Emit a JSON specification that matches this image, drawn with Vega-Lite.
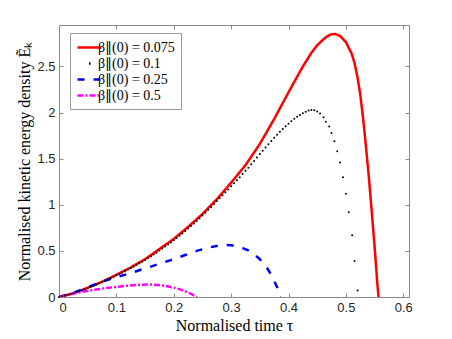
{
  "$schema": "https://vega.github.io/schema/vega-lite/v6.json",
  "autosize": "none",
  "width": 350,
  "height": 272,
  "padding": {"left": 59, "top": 25, "right": 43, "bottom": 42},
  "background": "white",
  "config": {
    "font": "Liberation Serif",
    "view": {"stroke": null},
    "axis": {
      "grid": false,
      "domainColor": "#8a8a8a",
      "domainWidth": 1,
      "tickColor": "#8a8a8a",
      "tickSize": -4,
      "labelFont": "Liberation Sans",
      "labelFontSize": 13,
      "labelColor": "#262626",
      "titleFont": "Liberation Serif",
      "titleFontSize": 16,
      "titleFontWeight": "normal",
      "titleColor": "#000000"
    },
    "legend": {
      "orient": "none",
      "legendX": 11,
      "legendY": 8,
      "fillColor": "white",
      "strokeColor": "#9a9a9a",
      "padding": 6,
      "symbolType": "M -1 0 L 2.4286 0",
      "symbolSize": 196,
      "symbolStrokeWidth": 2.5,
      "labelFont": "Liberation Serif",
      "labelFontSize": 14,
      "labelColor": "#000000",
      "labelOffset": 5,
      "rowPadding": -4
    }
  },
  "data": {
    "values": [
      {"s": "β∥(0) = 0.075", "t": 0.0, "e": 0.0},
      {"s": "β∥(0) = 0.075", "t": 0.025, "e": 0.04},
      {"s": "β∥(0) = 0.075", "t": 0.05, "e": 0.1},
      {"s": "β∥(0) = 0.075", "t": 0.075, "e": 0.165},
      {"s": "β∥(0) = 0.075", "t": 0.1, "e": 0.24},
      {"s": "β∥(0) = 0.075", "t": 0.125, "e": 0.32},
      {"s": "β∥(0) = 0.075", "t": 0.15, "e": 0.41},
      {"s": "β∥(0) = 0.075", "t": 0.175, "e": 0.52},
      {"s": "β∥(0) = 0.075", "t": 0.2, "e": 0.63},
      {"s": "β∥(0) = 0.075", "t": 0.225, "e": 0.76},
      {"s": "β∥(0) = 0.075", "t": 0.25, "e": 0.9},
      {"s": "β∥(0) = 0.075", "t": 0.275, "e": 1.06},
      {"s": "β∥(0) = 0.075", "t": 0.3, "e": 1.24},
      {"s": "β∥(0) = 0.075", "t": 0.325, "e": 1.43},
      {"s": "β∥(0) = 0.075", "t": 0.35, "e": 1.66},
      {"s": "β∥(0) = 0.075", "t": 0.375, "e": 1.93},
      {"s": "β∥(0) = 0.075", "t": 0.4, "e": 2.22},
      {"s": "β∥(0) = 0.075", "t": 0.425, "e": 2.5},
      {"s": "β∥(0) = 0.075", "t": 0.44, "e": 2.65},
      {"s": "β∥(0) = 0.075", "t": 0.45, "e": 2.73},
      {"s": "β∥(0) = 0.075", "t": 0.46, "e": 2.79},
      {"s": "β∥(0) = 0.075", "t": 0.468, "e": 2.83},
      {"s": "β∥(0) = 0.075", "t": 0.475, "e": 2.85},
      {"s": "β∥(0) = 0.075", "t": 0.482, "e": 2.852},
      {"s": "β∥(0) = 0.075", "t": 0.49, "e": 2.83},
      {"s": "β∥(0) = 0.075", "t": 0.5, "e": 2.765},
      {"s": "β∥(0) = 0.075", "t": 0.51, "e": 2.64},
      {"s": "β∥(0) = 0.075", "t": 0.515, "e": 2.54},
      {"s": "β∥(0) = 0.075", "t": 0.52, "e": 2.39},
      {"s": "β∥(0) = 0.075", "t": 0.525, "e": 2.2},
      {"s": "β∥(0) = 0.075", "t": 0.53, "e": 1.94},
      {"s": "β∥(0) = 0.075", "t": 0.535, "e": 1.63},
      {"s": "β∥(0) = 0.075", "t": 0.54, "e": 1.3},
      {"s": "β∥(0) = 0.075", "t": 0.545, "e": 0.93},
      {"s": "β∥(0) = 0.075", "t": 0.55, "e": 0.55},
      {"s": "β∥(0) = 0.075", "t": 0.555, "e": 0.13},
      {"s": "β∥(0) = 0.075", "t": 0.557, "e": 0.0},

      {"s": "β∥(0) = 0.25", "t": 0.0, "e": 0.0},
      {"s": "β∥(0) = 0.25", "t": 0.02, "e": 0.035},
      {"s": "β∥(0) = 0.25", "t": 0.04, "e": 0.08},
      {"s": "β∥(0) = 0.25", "t": 0.06, "e": 0.13},
      {"s": "β∥(0) = 0.25", "t": 0.08, "e": 0.175},
      {"s": "β∥(0) = 0.25", "t": 0.1, "e": 0.215},
      {"s": "β∥(0) = 0.25", "t": 0.12, "e": 0.25},
      {"s": "β∥(0) = 0.25", "t": 0.14, "e": 0.29},
      {"s": "β∥(0) = 0.25", "t": 0.16, "e": 0.33},
      {"s": "β∥(0) = 0.25", "t": 0.18, "e": 0.37},
      {"s": "β∥(0) = 0.25", "t": 0.2, "e": 0.41},
      {"s": "β∥(0) = 0.25", "t": 0.22, "e": 0.455},
      {"s": "β∥(0) = 0.25", "t": 0.24, "e": 0.5},
      {"s": "β∥(0) = 0.25", "t": 0.26, "e": 0.535},
      {"s": "β∥(0) = 0.25", "t": 0.28, "e": 0.56},
      {"s": "β∥(0) = 0.25", "t": 0.29, "e": 0.565},
      {"s": "β∥(0) = 0.25", "t": 0.3, "e": 0.56},
      {"s": "β∥(0) = 0.25", "t": 0.31, "e": 0.55},
      {"s": "β∥(0) = 0.25", "t": 0.32, "e": 0.53},
      {"s": "β∥(0) = 0.25", "t": 0.33, "e": 0.505},
      {"s": "β∥(0) = 0.25", "t": 0.34, "e": 0.465},
      {"s": "β∥(0) = 0.25", "t": 0.35, "e": 0.41},
      {"s": "β∥(0) = 0.25", "t": 0.36, "e": 0.34},
      {"s": "β∥(0) = 0.25", "t": 0.37, "e": 0.24},
      {"s": "β∥(0) = 0.25", "t": 0.38, "e": 0.11},
      {"s": "β∥(0) = 0.25", "t": 0.386, "e": 0.0},

      {"s": "β∥(0) = 0.5", "t": 0.0, "e": 0.0},
      {"s": "β∥(0) = 0.5", "t": 0.02, "e": 0.03},
      {"s": "β∥(0) = 0.5", "t": 0.04, "e": 0.055},
      {"s": "β∥(0) = 0.5", "t": 0.06, "e": 0.077},
      {"s": "β∥(0) = 0.5", "t": 0.08, "e": 0.095},
      {"s": "β∥(0) = 0.5", "t": 0.1, "e": 0.11},
      {"s": "β∥(0) = 0.5", "t": 0.12, "e": 0.123},
      {"s": "β∥(0) = 0.5", "t": 0.14, "e": 0.132},
      {"s": "β∥(0) = 0.5", "t": 0.16, "e": 0.135},
      {"s": "β∥(0) = 0.5", "t": 0.18, "e": 0.126},
      {"s": "β∥(0) = 0.5", "t": 0.2, "e": 0.102},
      {"s": "β∥(0) = 0.5", "t": 0.21, "e": 0.085},
      {"s": "β∥(0) = 0.5", "t": 0.22, "e": 0.062},
      {"s": "β∥(0) = 0.5", "t": 0.23, "e": 0.035},
      {"s": "β∥(0) = 0.5", "t": 0.24, "e": 0.0},

      {"s": "β∥(0) = 0.1", "t": 0.0, "e": 0.0},
      {"s": "β∥(0) = 0.1", "t": 0.005, "e": 0.007},
      {"s": "β∥(0) = 0.1", "t": 0.01, "e": 0.015},
      {"s": "β∥(0) = 0.1", "t": 0.015, "e": 0.023},
      {"s": "β∥(0) = 0.1", "t": 0.02, "e": 0.032},
      {"s": "β∥(0) = 0.1", "t": 0.025, "e": 0.041},
      {"s": "β∥(0) = 0.1", "t": 0.03, "e": 0.051},
      {"s": "β∥(0) = 0.1", "t": 0.035, "e": 0.062},
      {"s": "β∥(0) = 0.1", "t": 0.04, "e": 0.073},
      {"s": "β∥(0) = 0.1", "t": 0.045, "e": 0.085},
      {"s": "β∥(0) = 0.1", "t": 0.05, "e": 0.098},
      {"s": "β∥(0) = 0.1", "t": 0.055, "e": 0.11},
      {"s": "β∥(0) = 0.1", "t": 0.06, "e": 0.123},
      {"s": "β∥(0) = 0.1", "t": 0.065, "e": 0.136},
      {"s": "β∥(0) = 0.1", "t": 0.07, "e": 0.15},
      {"s": "β∥(0) = 0.1", "t": 0.075, "e": 0.163},
      {"s": "β∥(0) = 0.1", "t": 0.08, "e": 0.177},
      {"s": "β∥(0) = 0.1", "t": 0.085, "e": 0.191},
      {"s": "β∥(0) = 0.1", "t": 0.09, "e": 0.205},
      {"s": "β∥(0) = 0.1", "t": 0.095, "e": 0.22},
      {"s": "β∥(0) = 0.1", "t": 0.1, "e": 0.235},
      {"s": "β∥(0) = 0.1", "t": 0.105, "e": 0.25},
      {"s": "β∥(0) = 0.1", "t": 0.11, "e": 0.266},
      {"s": "β∥(0) = 0.1", "t": 0.115, "e": 0.282},
      {"s": "β∥(0) = 0.1", "t": 0.12, "e": 0.298},
      {"s": "β∥(0) = 0.1", "t": 0.125, "e": 0.315},
      {"s": "β∥(0) = 0.1", "t": 0.13, "e": 0.332},
      {"s": "β∥(0) = 0.1", "t": 0.135, "e": 0.349},
      {"s": "β∥(0) = 0.1", "t": 0.14, "e": 0.366},
      {"s": "β∥(0) = 0.1", "t": 0.145, "e": 0.383},
      {"s": "β∥(0) = 0.1", "t": 0.15, "e": 0.4},
      {"s": "β∥(0) = 0.1", "t": 0.155, "e": 0.42},
      {"s": "β∥(0) = 0.1", "t": 0.16, "e": 0.44},
      {"s": "β∥(0) = 0.1", "t": 0.165, "e": 0.46},
      {"s": "β∥(0) = 0.1", "t": 0.17, "e": 0.481},
      {"s": "β∥(0) = 0.1", "t": 0.175, "e": 0.503},
      {"s": "β∥(0) = 0.1", "t": 0.18, "e": 0.525},
      {"s": "β∥(0) = 0.1", "t": 0.185, "e": 0.547},
      {"s": "β∥(0) = 0.1", "t": 0.19, "e": 0.569},
      {"s": "β∥(0) = 0.1", "t": 0.195, "e": 0.592},
      {"s": "β∥(0) = 0.1", "t": 0.2, "e": 0.615},
      {"s": "β∥(0) = 0.1", "t": 0.205, "e": 0.64},
      {"s": "β∥(0) = 0.1", "t": 0.21, "e": 0.665},
      {"s": "β∥(0) = 0.1", "t": 0.215, "e": 0.69},
      {"s": "β∥(0) = 0.1", "t": 0.22, "e": 0.716},
      {"s": "β∥(0) = 0.1", "t": 0.225, "e": 0.742},
      {"s": "β∥(0) = 0.1", "t": 0.23, "e": 0.769},
      {"s": "β∥(0) = 0.1", "t": 0.235, "e": 0.796},
      {"s": "β∥(0) = 0.1", "t": 0.24, "e": 0.824},
      {"s": "β∥(0) = 0.1", "t": 0.245, "e": 0.853},
      {"s": "β∥(0) = 0.1", "t": 0.25, "e": 0.885},
      {"s": "β∥(0) = 0.1", "t": 0.255, "e": 0.915},
      {"s": "β∥(0) = 0.1", "t": 0.26, "e": 0.946},
      {"s": "β∥(0) = 0.1", "t": 0.265, "e": 0.977},
      {"s": "β∥(0) = 0.1", "t": 0.27, "e": 1.008},
      {"s": "β∥(0) = 0.1", "t": 0.275, "e": 1.04},
      {"s": "β∥(0) = 0.1", "t": 0.28, "e": 1.071},
      {"s": "β∥(0) = 0.1", "t": 0.285, "e": 1.103},
      {"s": "β∥(0) = 0.1", "t": 0.29, "e": 1.135},
      {"s": "β∥(0) = 0.1", "t": 0.295, "e": 1.167},
      {"s": "β∥(0) = 0.1", "t": 0.3, "e": 1.2},
      {"s": "β∥(0) = 0.1", "t": 0.305, "e": 1.233},
      {"s": "β∥(0) = 0.1", "t": 0.31, "e": 1.266},
      {"s": "β∥(0) = 0.1", "t": 0.315, "e": 1.3},
      {"s": "β∥(0) = 0.1", "t": 0.32, "e": 1.334},
      {"s": "β∥(0) = 0.1", "t": 0.325, "e": 1.368},
      {"s": "β∥(0) = 0.1", "t": 0.33, "e": 1.403},
      {"s": "β∥(0) = 0.1", "t": 0.335, "e": 1.44},
      {"s": "β∥(0) = 0.1", "t": 0.34, "e": 1.476},
      {"s": "β∥(0) = 0.1", "t": 0.345, "e": 1.513},
      {"s": "β∥(0) = 0.1", "t": 0.35, "e": 1.55},
      {"s": "β∥(0) = 0.1", "t": 0.355, "e": 1.586},
      {"s": "β∥(0) = 0.1", "t": 0.36, "e": 1.622},
      {"s": "β∥(0) = 0.1", "t": 0.365, "e": 1.657},
      {"s": "β∥(0) = 0.1", "t": 0.37, "e": 1.692},
      {"s": "β∥(0) = 0.1", "t": 0.375, "e": 1.726},
      {"s": "β∥(0) = 0.1", "t": 0.38, "e": 1.759},
      {"s": "β∥(0) = 0.1", "t": 0.385, "e": 1.791},
      {"s": "β∥(0) = 0.1", "t": 0.39, "e": 1.822},
      {"s": "β∥(0) = 0.1", "t": 0.395, "e": 1.852},
      {"s": "β∥(0) = 0.1", "t": 0.4, "e": 1.88},
      {"s": "β∥(0) = 0.1", "t": 0.405, "e": 1.907},
      {"s": "β∥(0) = 0.1", "t": 0.41, "e": 1.932},
      {"s": "β∥(0) = 0.1", "t": 0.415, "e": 1.955},
      {"s": "β∥(0) = 0.1", "t": 0.42, "e": 1.975},
      {"s": "β∥(0) = 0.1", "t": 0.425, "e": 1.993},
      {"s": "β∥(0) = 0.1", "t": 0.43, "e": 2.01},
      {"s": "β∥(0) = 0.1", "t": 0.435, "e": 2.022},
      {"s": "β∥(0) = 0.1", "t": 0.44, "e": 2.027},
      {"s": "β∥(0) = 0.1", "t": 0.445, "e": 2.025},
      {"s": "β∥(0) = 0.1", "t": 0.45, "e": 2.012},
      {"s": "β∥(0) = 0.1", "t": 0.455, "e": 1.99},
      {"s": "β∥(0) = 0.1", "t": 0.461, "e": 1.95},
      {"s": "β∥(0) = 0.1", "t": 0.465, "e": 1.9},
      {"s": "β∥(0) = 0.1", "t": 0.471, "e": 1.85},
      {"s": "β∥(0) = 0.1", "t": 0.475, "e": 1.78},
      {"s": "β∥(0) = 0.1", "t": 0.48, "e": 1.69},
      {"s": "β∥(0) = 0.1", "t": 0.485, "e": 1.58},
      {"s": "β∥(0) = 0.1", "t": 0.49, "e": 1.46},
      {"s": "β∥(0) = 0.1", "t": 0.495, "e": 1.3},
      {"s": "β∥(0) = 0.1", "t": 0.5, "e": 1.12},
      {"s": "β∥(0) = 0.1", "t": 0.505, "e": 0.92},
      {"s": "β∥(0) = 0.1", "t": 0.511, "e": 0.67},
      {"s": "β∥(0) = 0.1", "t": 0.515, "e": 0.39},
      {"s": "β∥(0) = 0.1", "t": 0.5205, "e": 0.07}
    ]
  },
  "layer": [
    {
      "transform": [{"filter": "datum.s !== 'β∥(0) = 0.1'"}],
      "mark": {"type": "line", "strokeWidth": 2.5, "clip": true},
      "encoding": {
        "x": {
          "field": "t", "type": "quantitative",
          "scale": {"domain": [0, 0.61], "nice": false, "zero": false},
          "axis": {
            "orient": "bottom",
            "title": "Normalised time τ",
            "values": [0, 0.1, 0.2, 0.3, 0.4, 0.5, 0.6],
            "format": "~g",
            "labelPadding": 8,
            "titlePadding": 3
          }
        },
        "y": {
          "field": "e", "type": "quantitative",
          "scale": {"domain": [0, 2.95], "nice": false, "zero": false},
          "axis": {
            "orient": "left",
            "title": "Normalised kinetic energy density Ẽₖ",
            "values": [0, 0.5, 1, 1.5, 2, 2.5],
            "format": "~g",
            "labelPadding": 8,
            "titlePadding": 4
          }
        },
        "color": {
          "field": "s", "type": "nominal",
          "scale": {
            "domain": ["β∥(0) = 0.075", "β∥(0) = 0.1", "β∥(0) = 0.25", "β∥(0) = 0.5"],
            "range": ["#ff0000", "#000000", "#0000ff", "#ff00ff"]
          },
          "legend": {"title": null, "labelFont": "Liberation Serif", "labelFontSize": 14}
        },
        "strokeDash": {
          "field": "s", "type": "nominal",
          "scale": {
            "domain": ["β∥(0) = 0.075", "β∥(0) = 0.1", "β∥(0) = 0.25", "β∥(0) = 0.5"],
            "range": [[1, 0], [0, 11.5, 1.5, 100], [7, 9], [6, 2, 2, 2]]
          },
          "legend": {"title": null, "labelFont": "Liberation Serif", "labelFontSize": 14}
        }
      }
    },
    {
      "transform": [{"filter": "datum.s === 'β∥(0) = 0.1'"}],
      "mark": {"type": "point", "filled": true, "shape": "circle", "size": 4, "color": "#000000", "opacity": 1},
      "encoding": {
        "x": {
          "field": "t", "type": "quantitative",
          "scale": {"domain": [0, 0.61], "nice": false, "zero": false},
          "axis": {"orient": "top", "title": null, "labels": false, "values": [0, 0.1, 0.2, 0.3, 0.4, 0.5, 0.6]}
        },
        "y": {
          "field": "e", "type": "quantitative",
          "scale": {"domain": [0, 2.95], "nice": false, "zero": false},
          "axis": {"orient": "right", "title": null, "labels": false, "values": [0, 0.5, 1, 1.5, 2, 2.5]}
        }
      }
    }
  ]
}
